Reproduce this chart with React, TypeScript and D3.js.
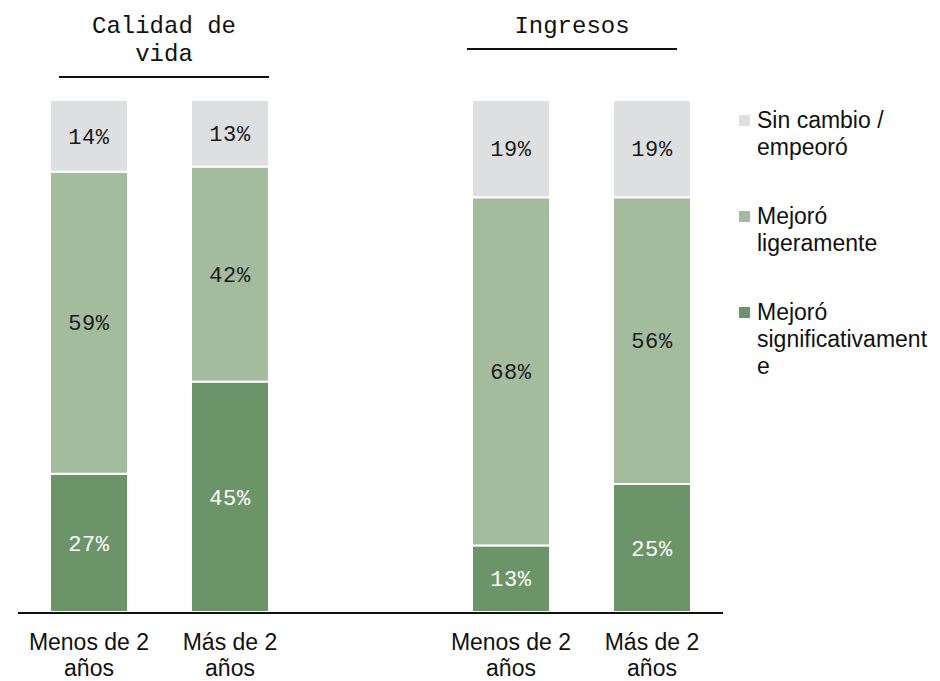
import * as d3 from "d3";

const panels = ["Calidad de vida", "Ingresos"];
const panelTitles = [["Calidad de", "vida"], ["Ingresos"]];
const categories = ["Menos de 2 años", "Más de 2 años"];
const categoryLines = [["Menos de 2", "años"], ["Más de 2", "años"]];
const seriesKeys = ["sig", "lig", "sin"];
const legendLines = [
  ["Sin cambio /", "empeoró"],
  ["Mejoró", "ligeramente"],
  ["Mejoró", "significativament", "e"],
];
// values per panel, per category: [significativamente, ligeramente, sin cambio]
const sigValues = [[27, 45], [13, 25]];
const ligValues = [[59, 42], [68, 56]];
const sinValues = [[14, 13], [19, 19]];

const COLORS: Record<string, string> = { sig: "#6b9468", lig: "#a3bc9d", sin: "#dedfe1" };
const MONO = "'Liberation Mono', 'DejaVu Sans Mono', monospace";
const SANS = "'Liberation Sans', Arial, sans-serif";

const W = 940;
const H = 681;

export default function App() {
  const y = d3.scaleLinear().domain([0, 100]).range([612, 100]);
  const px = d3.scaleBand().domain(panels).range([29, 873]);
  const cx = d3.scaleBand().domain(categories).range([21, 240]).paddingInner(0.447);
  const headerCenter = [164, 572];

  const rows = panels.flatMap((p, pi) =>
    categories.map((c, ci) => ({
      panel: p,
      pi,
      cat: c,
      ci,
      sig: sigValues[pi][ci],
      lig: ligValues[pi][ci],
      sin: sinValues[pi][ci],
    }))
  );
  const stack = d3.stack<any>().keys(seriesKeys)(rows);

  const legendOrder = ["sin", "lig", "sig"];

  return (
    <svg width={W} height={H} style={{ position: "absolute", left: 0, top: 0, background: "#fff" }}>
      {/* headers */}
      {panels.map((p, pi) => {
        const lines = panelTitles[pi];
        const lineY = 33 + (lines.length - 1) * 28 + 16;
        return (
          <g key={p}>
            {lines.map((t, li) => (
              <text
                key={t}
                x={headerCenter[pi]}
                y={33 + li * 28}
                textAnchor="middle"
                fontFamily={MONO}
                fontSize={24}
                fill="#111"
              >
                {t}
              </text>
            ))}
            <line x1={headerCenter[pi] - 105} x2={headerCenter[pi] + 105} y1={lineY} y2={lineY} stroke="#111" strokeWidth={2} />
          </g>
        );
      })}

      {/* bars */}
      {stack.map((s) => (
        <g key={s.key}>
          {s.map((d: any) => {
            const r = d.data;
            const x = (px(r.panel) ?? 0) + (cx(r.cat) ?? 0);
            const y0 = y(d[0]);
            const y1 = y(d[1]);
            const v = d[1] - d[0];
            return (
              <g key={r.panel + r.cat}>
                <rect
                  x={x}
                  y={y1}
                  width={cx.bandwidth()}
                  height={y0 - y1}
                  fill={COLORS[s.key]}
                  stroke="#fff"
                  strokeWidth={2}
                />
                <text
                  x={x + cx.bandwidth() / 2}
                  y={(y0 + y1) / 2}
                  dy="0.35em"
                  textAnchor="middle"
                  fontFamily={MONO}
                  fontSize={22}
                  letterSpacing={0.6}
                  fill={s.key === "sig" ? "#fff" : "#1a1a1a"}
                >
                  {`${v}%`}
                </text>
              </g>
            );
          })}
        </g>
      ))}

      {/* baseline */}
      <line x1={18} x2={723} y1={y(0) + 1} y2={y(0) + 1} stroke="#111" strokeWidth={2} />

      {/* category labels */}
      {rows.map((r) => {
        const x = (px(r.panel) ?? 0) + (cx(r.cat) ?? 0) + cx.bandwidth() / 2;
        return (
          <text key={r.panel + r.cat} textAnchor="middle" fontFamily={SANS} fontSize={23} fill="#111">
            {categoryLines[r.ci].map((t, li) => (
              <tspan key={li} x={x} y={650 + li * 26}>
                {t}
              </tspan>
            ))}
          </text>
        );
      })}

      {/* legend */}
      {legendOrder.map((k, i) => {
        const top = 120 + i * 96;
        const lines = legendLines[i];
        return (
          <g key={k}>
            <rect x={739} y={top - 5} width={11} height={11} fill={COLORS[k]} />
            <text fontFamily={SANS} fontSize={23} fill="#111">
              {lines.map((t, li) => (
                <tspan key={li} x={757} y={top + 8 + li * 27}>
                  {t}
                </tspan>
              ))}
            </text>
          </g>
        );
      })}
    </svg>
  );
}
